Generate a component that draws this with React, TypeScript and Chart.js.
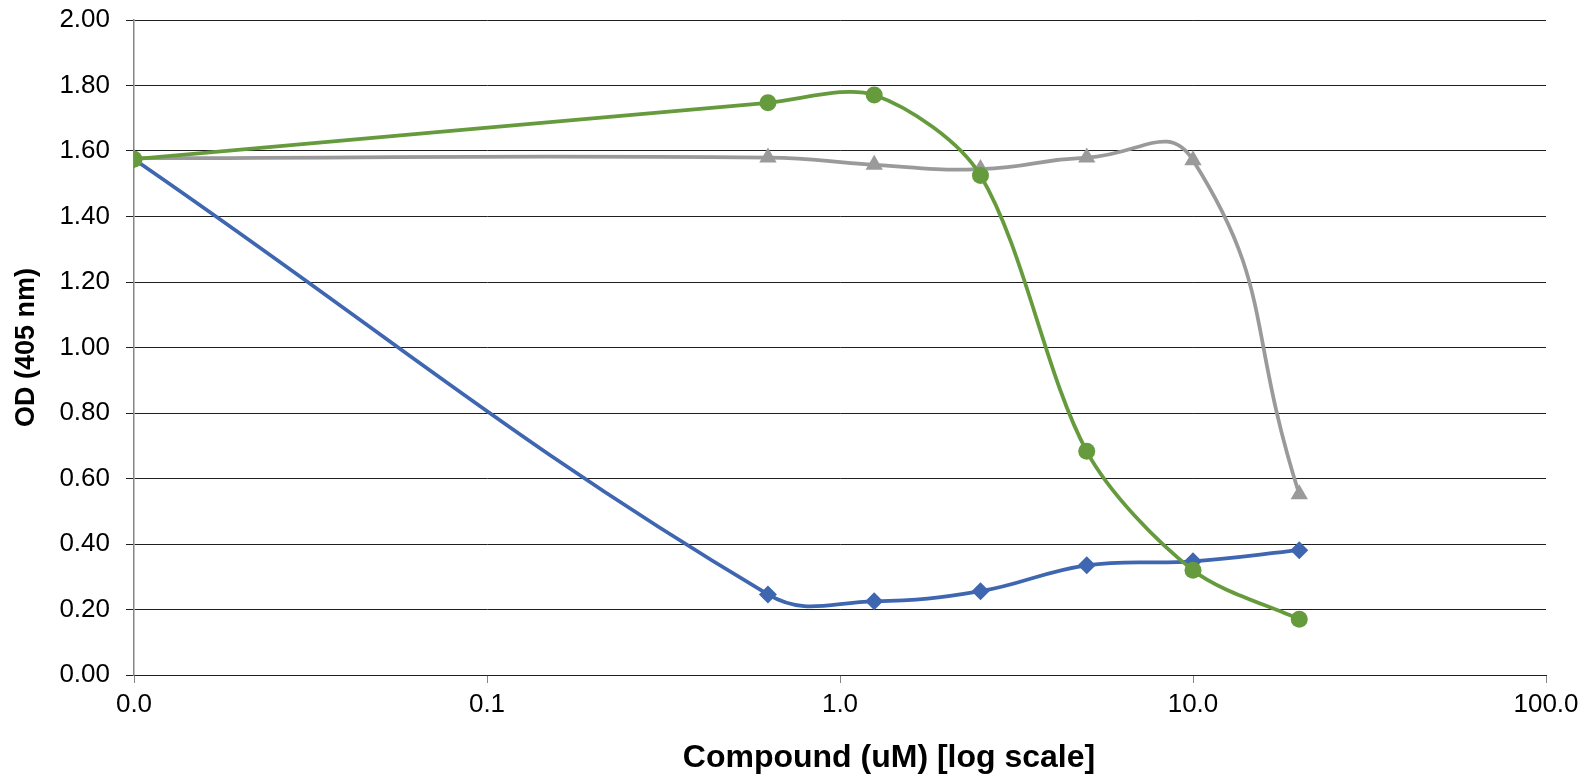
import React, { useEffect, useRef } from 'react';
import { Chart, registerables } from 'chart.js';

Chart.register(...registerables);

// Concentrations (uM); the untreated control (0 uM) is plotted at the axis minimum 0.01
const concentrations = [0.01, 0.625, 1.25, 2.5, 5, 10, 20];
const seriesBlue = [1.575, 0.246, 0.225, 0.256, 0.335, 0.347, 0.381];
const seriesGreen = [1.575, 1.747, 1.771, 1.525, 0.683, 0.32, 0.17];
const seriesGray = [1.578, 1.58, 1.558, 1.545, 1.58, 1.572, 0.552];

const xTickValues = [0.01, 0.1, 1, 10, 100];
const xTickLabels = ['0.0', '0.1', '1.0', '10.0', '100.0'];
const yTickStep = 0.2;

const xTitle = 'Compound (uM) [log scale]';
const yTitle = 'OD (405 nm)';

const FONT = 'Liberation Sans, Arial, sans-serif';

const toPoints = (ys: number[]) => concentrations.map((x, i) => ({ x, y: ys[i] }));

const xTitlePlugin = {
  id: 'xTitlePlugin',
  afterDraw(chart: any) {
    const ctx = chart.ctx;
    ctx.save();
    ctx.font = `bold 32px ${FONT}`;
    ctx.fillStyle = '#000';
    ctx.textAlign = 'center';
    ctx.textBaseline = 'alphabetic';
    ctx.fillText(xTitle, 889, 767);
    ctx.restore();
  },
};

export default function App() {
  const ref = useRef<HTMLCanvasElement>(null);
  useEffect(() => {
    document.body.style.margin = '0';
    const canvas = ref.current!;
    const chart = new Chart(canvas, {
      type: 'line',
      data: {
        datasets: [
          {
            label: 'Series 1',
            data: toPoints(seriesBlue),
            borderColor: '#3F66B0',
            backgroundColor: '#3F66B0',
            pointStyle: 'rectRot',
            pointRadius: 9,
            pointBorderWidth: 0,
            borderWidth: 3.75,
            tension: 0.4,
            order: 2,
          },
          {
            label: 'Series 3',
            data: toPoints(seriesGray),
            borderColor: '#9A9A9A',
            backgroundColor: '#9A9A9A',
            pointStyle: 'triangle',
            pointRadius: 10,
            pointBorderWidth: 0,
            borderWidth: 3.75,
            tension: 0.5,
            order: 1,
          },
          {
            label: 'Series 2',
            data: toPoints(seriesGreen),
            borderColor: '#659B3D',
            backgroundColor: '#659B3D',
            pointStyle: 'circle',
            pointRadius: 8.5,
            pointBorderWidth: 0,
            borderWidth: 3.75,
            tension: 0.3,
            order: 0,
          },
        ],
      },
      options: {
        animation: false,
        responsive: false,
        devicePixelRatio: 1,
        layout: { padding: { top: 20, right: 47, left: 0, bottom: 0 } },
        plugins: { legend: { display: false }, tooltip: { enabled: false } },
        scales: {
          x: {
            type: 'logarithmic',
            min: 0.01,
            max: 100,
            afterBuildTicks: (s: any) => {
              s.ticks = xTickValues.map((v) => ({ value: v }));
            },
            afterFit: (s: any) => {
              s.height = 102;
            },
            ticks: {
              autoSkip: false,
              maxRotation: 0,
              color: '#000',
              font: { family: FONT, size: 26 },
              padding: 6,
              callback: (v: any) => {
                const i = xTickValues.findIndex((t) => Math.abs(t - Number(v)) < 1e-9);
                return i >= 0 ? xTickLabels[i] : '';
              },
            },
            grid: { drawOnChartArea: false, drawTicks: true, tickLength: 8, color: '#868686' },
            border: { display: true, color: '#1f1f1f', width: 1 },
          },
          y: {
            min: 0,
            max: 2,
            afterFit: (s: any) => {
              s.width = 134;
              s.paddingTop = 0;
              s.paddingBottom = 0;
            },
            ticks: {
              stepSize: yTickStep,
              color: '#000',
              font: { family: FONT, size: 26 },
              padding: 16,
              callback: (v: any) => Number(v).toFixed(2),
            },
            grid: { color: '#1f1f1f', lineWidth: 1, tickLength: 8 },
            border: { display: true, color: '#868686', width: 1.5 },
            title: {
              display: true,
              text: yTitle,
              color: '#000',
              font: { family: FONT, size: 27, weight: 'bold' },
              padding: { top: 10, bottom: 0 },
            },
          },
        },
      },
      plugins: [xTitlePlugin],
    } as any);
    return () => chart.destroy();
  }, []);
  return (
    <div style={{ width: 1593, height: 777 }}>
      <canvas ref={ref} width={1593} height={777} style={{ display: 'block' }} />
    </div>
  );
}
